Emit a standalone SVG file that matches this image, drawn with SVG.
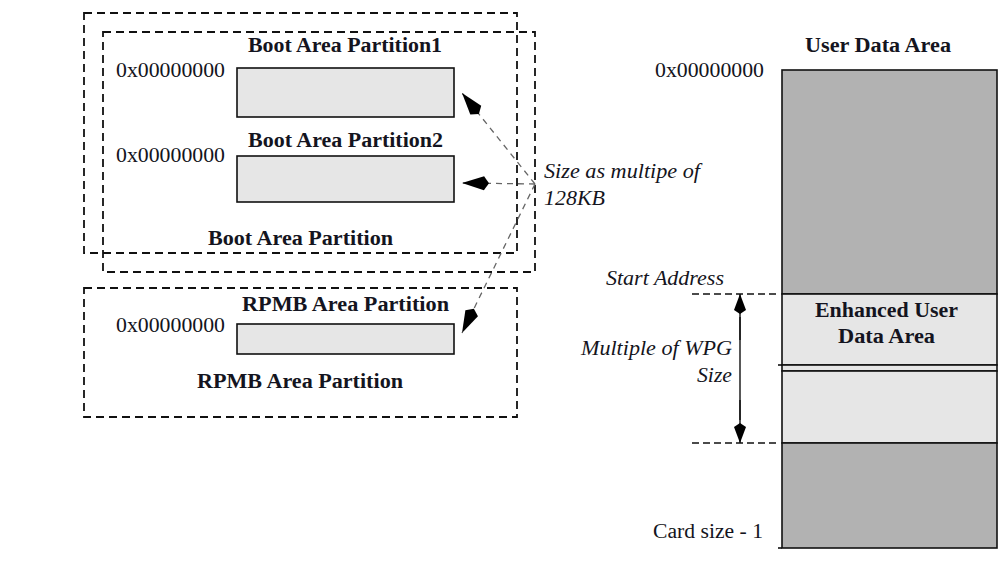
<svg xmlns="http://www.w3.org/2000/svg" width="1001" height="562" viewBox="0 0 1001 562">
<style>
.t{font-family:"Liberation Serif","Times New Roman",serif;font-size:20px;fill:#141420}
.b{font-weight:bold}
.i{font-style:italic}
.box{fill:none;stroke:#111;stroke-width:1.8;stroke-dasharray:8 5}
.part{fill:#e6e6e6;stroke:#111;stroke-width:1.6}
.dk{fill:#b2b2b2;stroke:#111;stroke-width:1.6}
.lt{fill:#e6e6e6;stroke:#111;stroke-width:1.6}
.con{fill:none;stroke:#666;stroke-width:1.3;stroke-dasharray:6 5}
.dim{fill:none;stroke:#111;stroke-width:1.4;stroke-dasharray:7 4}
</style>
<defs>
<marker id="kite" markerUnits="userSpaceOnUse" markerWidth="32" markerHeight="18" refX="28" refY="8" orient="auto" overflow="visible">
<path d="M28,8 L6,1 L1,8 L6,15 Z" fill="#000"/>
</marker>
<marker id="kiteS" markerUnits="userSpaceOnUse" markerWidth="24" markerHeight="14" refX="20" refY="6" orient="auto" overflow="visible">
<path d="M20,6 L4,0 L0,6 L4,12 Z" fill="#000"/>
</marker>
</defs>

<g id="boot-area">
<rect class="box" x="84" y="13" width="433" height="240"/>
<rect class="box" x="103" y="32" width="432" height="240"/>
<text class="t b" x="248" y="52" textLength="194" lengthAdjust="spacingAndGlyphs">Boot Area Partition1</text>
<text class="t" x="116" y="77" textLength="109" lengthAdjust="spacingAndGlyphs">0x00000000</text>
<rect class="part" x="237" y="68" width="217" height="49"/>
<text class="t b" x="248" y="147" textLength="195" lengthAdjust="spacingAndGlyphs">Boot Area Partition2</text>
<text class="t" x="116" y="162" textLength="109" lengthAdjust="spacingAndGlyphs">0x00000000</text>
<rect class="part" x="237" y="156" width="217" height="46"/>
<text class="t b" x="208" y="245" textLength="185" lengthAdjust="spacingAndGlyphs">Boot Area Partition</text>
</g>

<g id="rpmb-area">
<rect class="box" x="84" y="288" width="433" height="129"/>
<text class="t b" x="242" y="311" textLength="207" lengthAdjust="spacingAndGlyphs">RPMB Area Partition</text>
<text class="t" x="116" y="332" textLength="109" lengthAdjust="spacingAndGlyphs">0x00000000</text>
<rect class="part" x="237" y="324" width="217" height="30"/>
<text class="t b" x="197" y="388" textLength="206" lengthAdjust="spacingAndGlyphs">RPMB Area Partition</text>
</g>

<g id="size-label">
<text class="t i" x="544" y="178" textLength="156" lengthAdjust="spacingAndGlyphs">Size as multipe of</text>
<text class="t i" x="544" y="205" textLength="61" lengthAdjust="spacingAndGlyphs">128KB</text>
</g>

<g id="user-data-area">
<text class="t b" x="805" y="52" textLength="146" lengthAdjust="spacingAndGlyphs">User Data Area</text>
<text class="t" x="655" y="77" textLength="109" lengthAdjust="spacingAndGlyphs">0x00000000</text>
<rect class="dk" x="782" y="70" width="215" height="224"/>
<rect class="lt" x="782" y="294" width="215" height="71"/>
<rect class="lt" x="782" y="365" width="215" height="6"/>
<rect class="lt" x="782" y="371" width="215" height="72"/>
<rect class="dk" x="782" y="443" width="215" height="105"/>
<line x1="778" y1="365" x2="782" y2="365" stroke="#111" stroke-width="1.6"/>
<line x1="778" y1="548" x2="782" y2="548" stroke="#111" stroke-width="1.6"/>
<text class="t b" x="815" y="317" textLength="143" lengthAdjust="spacingAndGlyphs">Enhanced User</text>
<text class="t b" x="838" y="343" textLength="97" lengthAdjust="spacingAndGlyphs">Data Area</text>
<text class="t" x="653" y="538" textLength="110" lengthAdjust="spacingAndGlyphs">Card size - 1</text>
</g>

<g id="wpg-dimension">
<text class="t i" x="606" y="285" textLength="118" lengthAdjust="spacingAndGlyphs">Start Address</text>
<text class="t i" x="581" y="355" textLength="151" lengthAdjust="spacingAndGlyphs">Multiple of WPG</text>
<text class="t i" x="697" y="382" textLength="35" lengthAdjust="spacingAndGlyphs">Size</text>
</g>

<g id="connectors">
<line class="con" x1="535" y1="184" x2="462" y2="93" marker-end="url(#kite)"/>
<line class="con" x1="535" y1="184" x2="462" y2="183" marker-end="url(#kite)"/>
<line class="con" x1="535" y1="184" x2="462" y2="333" marker-end="url(#kite)"/>
<line class="dim" x1="692" y1="294" x2="780" y2="294"/>
<line class="dim" x1="692" y1="443" x2="780" y2="443"/>
<line x1="740" y1="420" x2="740" y2="317" stroke="#111" stroke-width="1.4"/>
<line x1="740" y1="340" x2="740" y2="294" stroke="#111" stroke-width="1.4" marker-end="url(#kiteS)"/>
<line x1="740" y1="400" x2="740" y2="443" stroke="#111" stroke-width="1.4" marker-end="url(#kiteS)"/>
</g>
</svg>
